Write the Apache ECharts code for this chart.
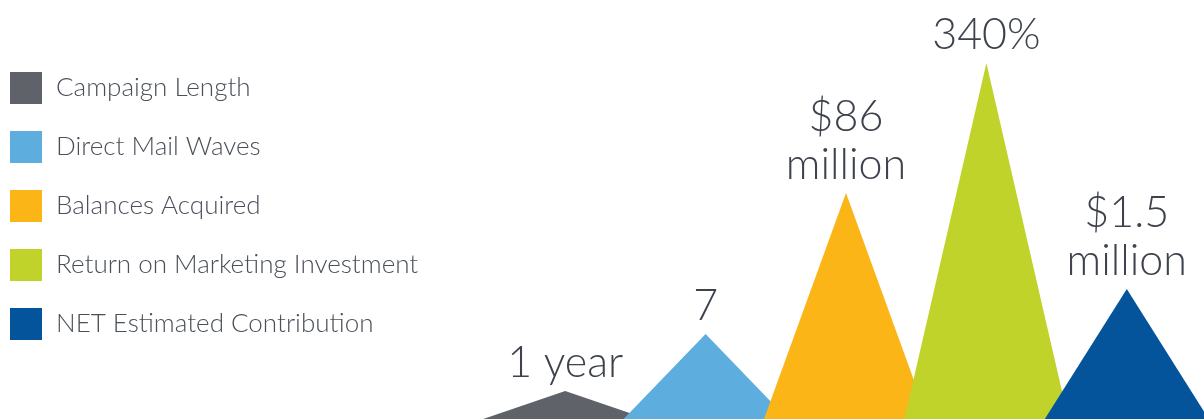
<!DOCTYPE html>
<html>
<head>
<meta charset="utf-8">
<script src="https://cdn.jsdelivr.net/npm/echarts@6/dist/echarts.min.js"></script>
<style>
html,body{margin:0;padding:0;background:#fff;}
#chart{width:1204px;height:419px;}
</style>
</head>
<body>
<div id="chart"></div>
<script>
const seriesNames = ['Campaign Length', 'Direct Mail Waves', 'Balances Acquired', 'Return on Marketing Investment', 'NET Estimated Contribution'];
const peakHeights = [28, 85, 226, 356, 130];
const valueLabels = ['1 year', '7', '$86\nmillion', '340%', '$1.5\nmillion'];
const colors = ['#5f6269', '#5daddf', '#fbb516', '#c0d32a', '#04549c'];

const chart = echarts.init(document.getElementById('chart'), null, {renderer: 'canvas'});

const series = seriesNames.map((name, i) => ({
  name: name,
  type: 'pictorialBar',
  symbol: 'triangle',
  symbolSize: [164, '100%'],
  barGap: '-100%',
  itemStyle: {color: colors[i]},
  label: {
    show: true,
    position: 'top',
    distance: 4,
    formatter: () => valueLabels[i],
    fontFamily: 'Lato',
    fontWeight: 300,
    fontSize: 43,
    lineHeight: 48,
    color: '#3d424d',
    align: 'center'
  },
  emphasis: {disabled: true},
  data: seriesNames.map((n, j) => (j === i ? peakHeights[i] : '-'))
}));

chart.setOption({
  animation: false,
  backgroundColor: '#ffffff',
  legend: {
    orient: 'vertical',
    left: 10,
    top: 72,
    padding: 0,
    icon: 'rect',
    itemWidth: 32,
    itemHeight: 32,
    itemGap: 27,
    selectedMode: false,
    textStyle: {
      fontFamily: 'Lato',
      fontWeight: 300,
      fontSize: 26,
      color: '#4a4f5a',
      padding: [0, 0, 0, 9]
    },
    data: seriesNames
  },
  grid: {left: 495, right: 7, top: 0, bottom: 0},
  xAxis: {
    type: 'category',
    data: seriesNames,
    show: false
  },
  yAxis: {
    type: 'value',
    min: 0,
    max: 419,
    show: false
  },
  series: series
});
</script>
</body>
</html>
